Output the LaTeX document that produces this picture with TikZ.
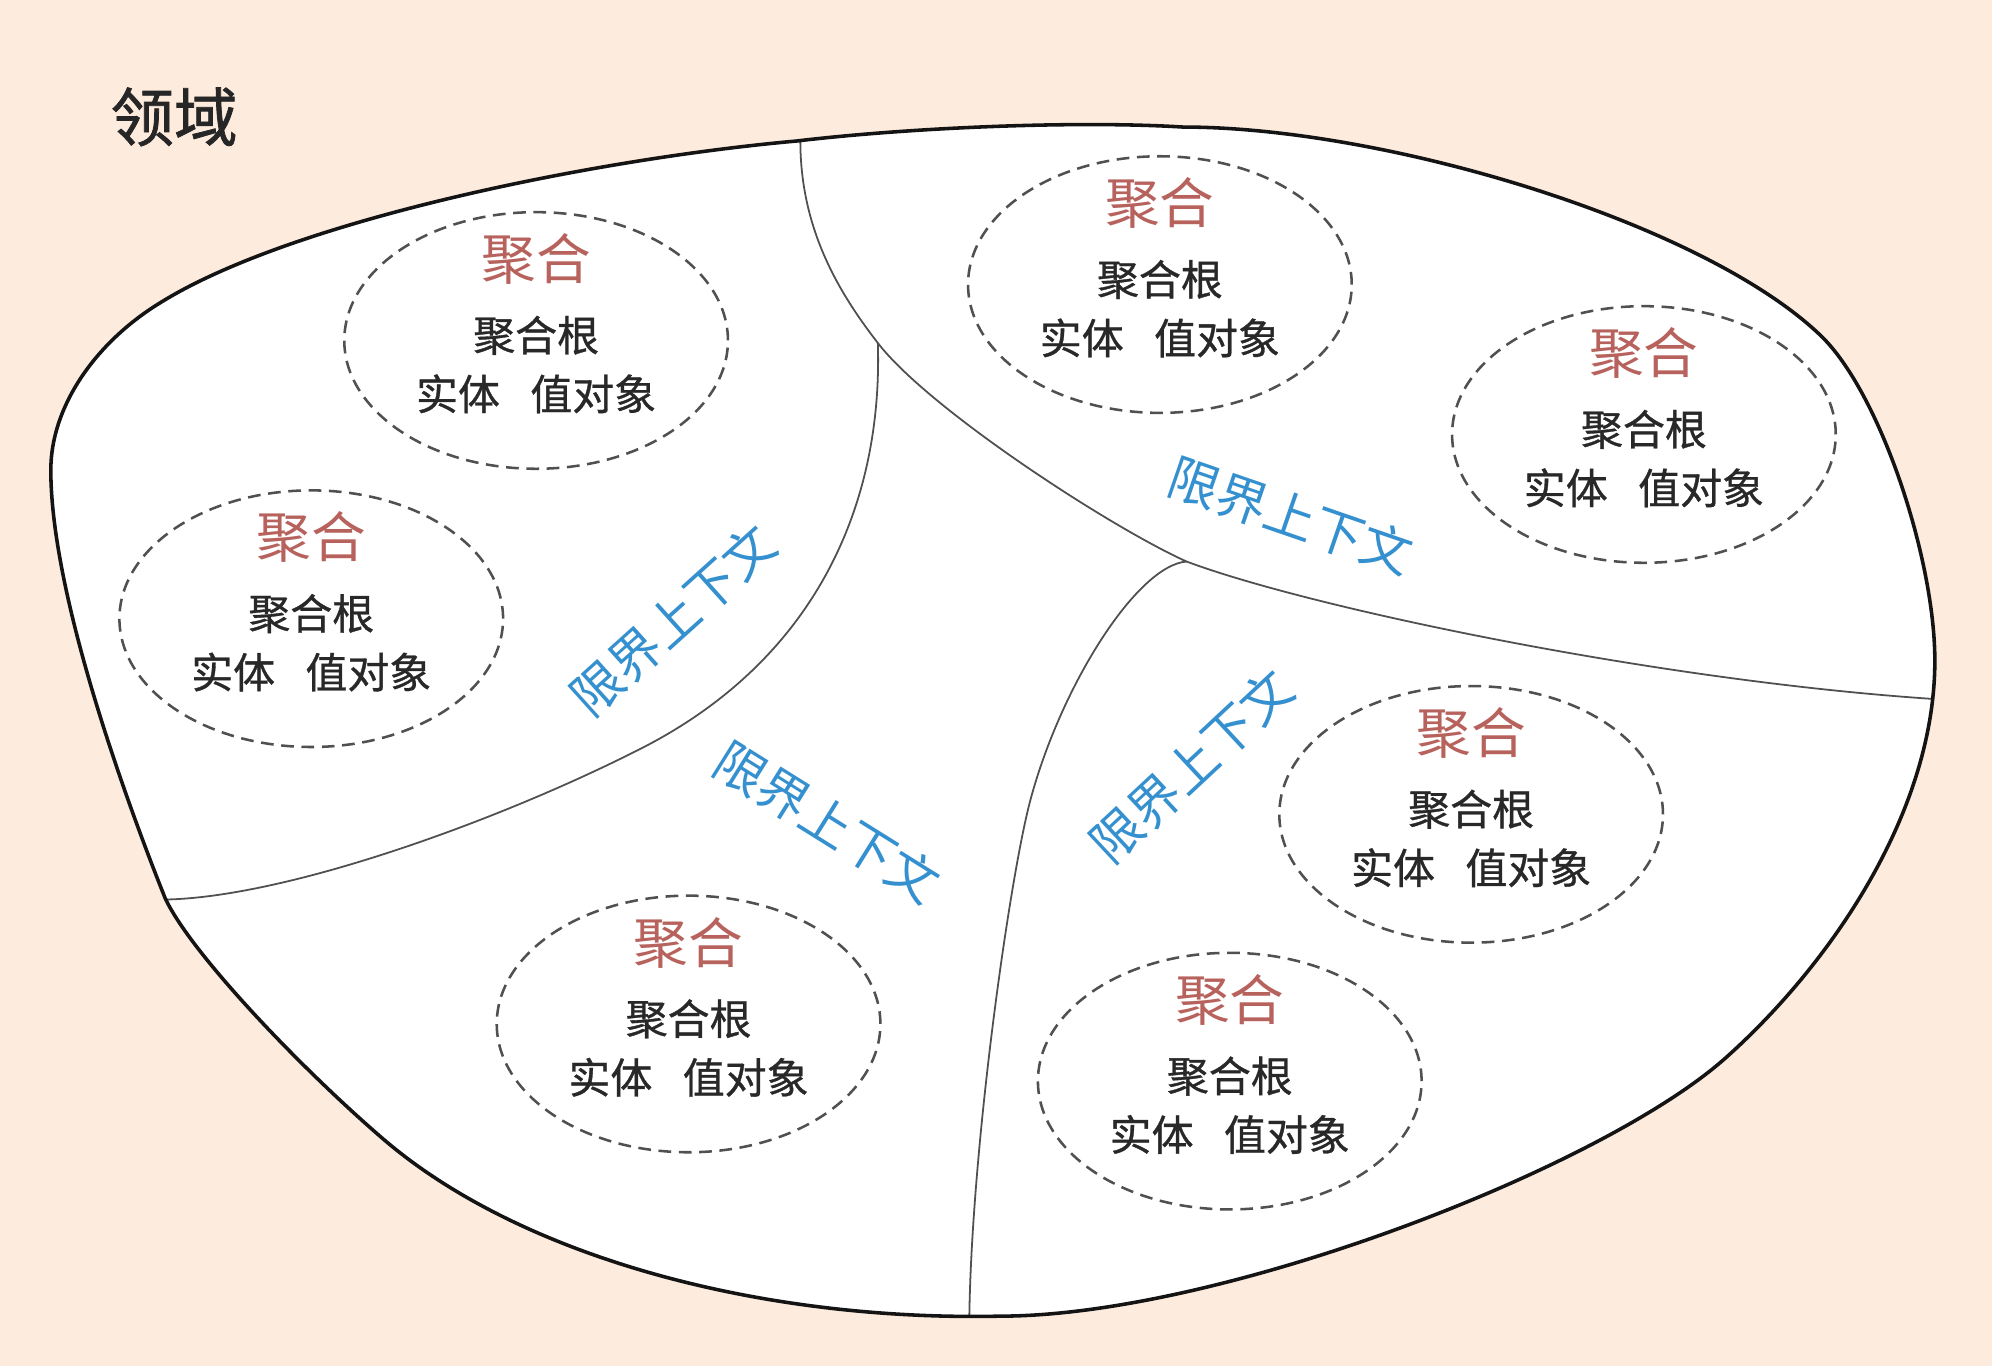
\documentclass[tikz,border=0pt]{standalone}
\usepackage{fontspec}
\newfontfamily\cjk{Noto Sans CJK SC}
\newfontfamily\cjkb{Noto Sans CJK SC}[FakeBold=0.8]
\newfontfamily\cjkt{Noto Sans CJK SC}[FakeBold=1.2]
\usetikzlibrary{shapes.geometric}
\definecolor{bgpeach}{RGB}{253,235,221}
\definecolor{aggred}{RGB}{183,98,92}
\definecolor{ctxblue}{RGB}{53,144,207}
\definecolor{txtdark}{RGB}{40,40,40}
\definecolor{linegray}{RGB}{80,80,80}
\tikzset{
  aggbox/.style={ellipse, draw=linegray, line width=2pt, dash pattern=on 10pt off 6pt,
    minimum width=302pt, minimum height=202pt, inner sep=0pt},
  aggtitle/.style={font=\cjk\fontsize{43}{46}\selectfont, text=aggred, inner sep=0pt},
  aggline/.style={font=\cjkb\fontsize{33}{36}\selectfont, text=txtdark, inner sep=0pt},
  ctxlabel/.style={font=\cjk\fontsize{40}{44}\selectfont, text=ctxblue, inner sep=0pt},
  divider/.style={draw=linegray, line width=1.4pt},
  outerline/.style={draw=black!92, line width=2.8pt}
}
\newcommand\aggnode[3]{%
  \node[aggbox] (#1) at (#2,#3) {};
  \node[aggtitle] (#1a) at ([yshift=64pt]#1.center) {聚合};
  \node[aggline] (#1b) at ([yshift=4pt]#1.center) {聚合根};
  \node[aggline] (#1c) at ([yshift=-42pt]#1.center) {实体\hspace{24pt}值对象};
}
\def\outerpath{(40,370) .. controls (40,320) and (75,270) .. (125,239)
  .. controls (230,173) and (470,125) .. (627,111)
  .. controls (720,100) and (850,95) .. (931,100)
  .. controls (1090,100) and (1340,175) .. (1433,264)
  .. controls (1480,309) and (1523,440) .. (1523,520)
  .. controls (1523,640) and (1440,760) .. (1358,833)
  .. controls (1260,920) and (960,1036) .. (787,1036)
  .. controls (600,1040) and (410,990) .. (301,896)
  .. controls (236,840) and (150,750) .. (130,707)
  .. controls (102,637) and (40,470) .. (40,370) -- cycle}
\begin{document}
\begin{tikzpicture}[x=1pt,y=-1pt]
\useasboundingbox (0,0) rectangle (1568,1075.2);
\fill[bgpeach] (0,0) rectangle (1568,1075.2);
\fill[white] \outerpath;
\begin{scope}
  \clip \outerpath;
  % top-right context boundary
  \coordinate (j1) at (691,270);
  \coordinate (j2) at (934,442);
  \draw[divider] (629,80) -- (630,111) .. controls (630,180) and (660,230) .. (j1)
     .. controls (731,322) and (874,415) .. (j2)
     .. controls (1030,478) and (1300,535) .. (1519,550) -- (1545,552);
  % left context boundary
  \draw[divider] (j1) .. controls (695,400) and (640,520) .. (505,589)
     .. controls (395,645) and (230,705) .. (133,708) -- (100,709);
  % lower-right context boundary
  \draw[divider] (j2) .. controls (895,445) and (835,540) .. (811,630)
     .. controls (795,690) and (765,900) .. (763,1036) -- (763,1060);
\end{scope}
\draw[outerline] \outerpath;
% title
\node[font=\cjkt\fontsize{50}{54}\selectfont, text=black!85, inner sep=0pt] (title) at (137,92) {领域};
% aggregates
\aggnode{e1}{422}{268}
\aggnode{e2}{245}{487}
\aggnode{e3}{913}{224}
\aggnode{e4}{1294}{342}
\aggnode{e5}{542}{806}
\aggnode{e6}{1158}{641}
\aggnode{e7}{968}{851}
% bounded contexts
\node[ctxlabel, rotate=42] (c1) at (530,488) {限界上下文};
\node[ctxlabel, rotate=-19] (c2) at (1016,406) {限界上下文};
\node[ctxlabel, rotate=-32] (c3) at (651,647) {限界上下文};
\node[ctxlabel, rotate=43] (c4) at (938,603) {限界上下文};
\end{tikzpicture}
\end{document}
